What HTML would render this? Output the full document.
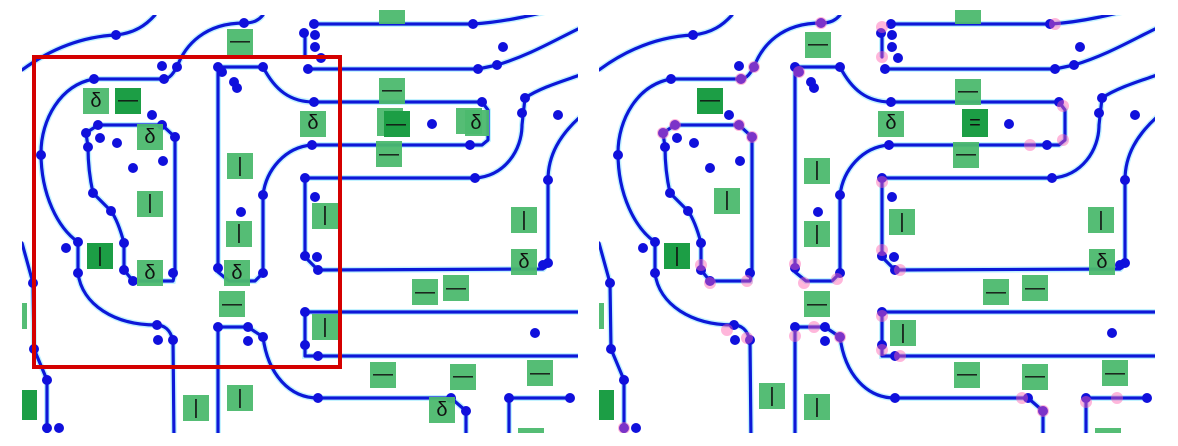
<!DOCTYPE html>
<html><head><meta charset="utf-8"><style>
html,body{margin:0;padding:0;background:#fff;width:1178px;height:446px;overflow:hidden}
svg{display:block}
.ln{fill:none;stroke:#0c18d8;stroke-width:3.2;stroke-linecap:round;stroke-linejoin:round}
.lb{fill:#4cb96e;opacity:.95}
.dk{fill:#1c9e45}
text{font-family:"Liberation Sans","DejaVu Sans",sans-serif;font-size:20px;fill:#111;text-anchor:middle;dominant-baseline:central}
</style></head><body>
<svg width="1178" height="446" viewBox="0 0 1178 446" xmlns="http://www.w3.org/2000/svg">
<defs>
<clipPath id="cp"><rect x="22" y="15" width="556" height="418"/></clipPath>
<path id="pd" d="
M22,70 C60,42 95,36 116,35 C135,33 146,25 155,15
M177,67 C185,45 205,23 244,23 C254,23 259,20 263,15
M314,24 L474,24 C505,22 535,15 580,3
M308,69 L478,69 L497,65 C530,55 555,40 580,28
M305,33 L305,57
M263,67 C275,90 290,102 314,102 L482,102 L488,110 L488,140 L482,145 L312,145 C285,147 266,170 263,195 L263,273 L255,281 L229,281 L218,272 L218,67 L263,67
M305,178 L475,178 C505,176 522,150 522,125 L525,98 C540,88 560,82 580,75
M580,117 C560,135 548,155 548,180 L548,263 L543,269 L318,270 L305,257 L305,178
M94,79 L164,79 C170,79 174,72 177,67
M94,79 C60,85 41,120 41,153 C41,195 58,228 78,242 L78,273 C82,305 115,325 156,325 C165,325 170,330 173,340 L174,440
M98,125 L162,125 L175,137 L175,273 L173,281 L133,281 L124,270 L124,243 C120,228 116,218 111,211 L93,193 C89,175 88,160 88,147 L86,133 L98,125
M22,243 L33,283 L34,349 L47,380 L47,440
M218,327 L248,327 L263,337 C268,375 290,398 318,398 L451,398 L466,411 L466,440
M218,327 L218,440
M305,312 L580,312 M305,312 L305,356 L318,356 L580,356
M509,398 L570,398 M509,398 L509,440
"/>
<g id="geo">
<use href="#pd" fill="none" stroke="#8fe8ff" stroke-width="6" opacity=".55"/>
<use href="#pd" class="ln"/>
<g fill="#1010dc">
<circle cx="116" cy="35" r="5"/><circle cx="244" cy="23" r="5"/><circle cx="177" cy="67" r="5"/><circle cx="164" cy="79" r="5"/><circle cx="162" cy="66" r="5"/><circle cx="94" cy="79" r="5"/><circle cx="41" cy="155" r="5"/>
<circle cx="98" cy="125" r="5"/><circle cx="86" cy="133" r="5"/><circle cx="88" cy="147" r="5"/><circle cx="100" cy="138" r="5"/><circle cx="117" cy="143" r="5"/><circle cx="152" cy="115" r="5"/><circle cx="162" cy="125" r="5"/><circle cx="175" cy="137" r="5"/><circle cx="133" cy="168" r="5"/><circle cx="163" cy="161" r="5"/>
<circle cx="93" cy="193" r="5"/><circle cx="111" cy="211" r="5"/><circle cx="78" cy="242" r="5"/><circle cx="78" cy="273" r="5"/><circle cx="124" cy="243" r="5"/><circle cx="124" cy="270" r="5"/><circle cx="66" cy="248" r="5"/><circle cx="133" cy="281" r="5"/><circle cx="173" cy="273" r="5"/>
<circle cx="218" cy="67" r="5"/><circle cx="222" cy="72" r="5"/><circle cx="263" cy="67" r="5"/><circle cx="234" cy="82" r="5"/><circle cx="237" cy="88" r="5"/>
<circle cx="314" cy="24" r="5"/><circle cx="473" cy="24" r="5"/><circle cx="304" cy="33" r="5"/><circle cx="315" cy="35" r="5"/><circle cx="315" cy="47" r="5"/><circle cx="321" cy="58" r="5"/>
<circle cx="308" cy="69" r="5"/><circle cx="478" cy="69" r="5"/><circle cx="497" cy="65" r="5"/><circle cx="503" cy="47" r="5"/>
<circle cx="314" cy="102" r="5"/><circle cx="482" cy="102" r="5"/><circle cx="312" cy="145" r="5"/><circle cx="470" cy="145" r="5"/><circle cx="432" cy="124" r="5"/>
<circle cx="558" cy="115" r="5"/><circle cx="525" cy="98" r="5"/><circle cx="522" cy="113" r="5"/>
<circle cx="263" cy="195" r="5"/><circle cx="305" cy="178" r="5"/><circle cx="475" cy="178" r="5"/><circle cx="548" cy="180" r="5"/><circle cx="315" cy="197" r="5"/><circle cx="241" cy="212" r="5"/>
<circle cx="218" cy="268" r="5"/><circle cx="263" cy="273" r="5"/><circle cx="305" cy="256" r="5"/><circle cx="317" cy="257" r="5"/><circle cx="318" cy="270" r="5"/><circle cx="548" cy="263" r="5"/><circle cx="543" cy="265" r="5"/>
<circle cx="305" cy="312" r="5"/><circle cx="305" cy="345" r="5"/><circle cx="318" cy="356" r="5"/><circle cx="535" cy="333" r="5"/>
<circle cx="157" cy="325" r="5"/><circle cx="173" cy="340" r="5"/><circle cx="158" cy="340" r="5"/><circle cx="218" cy="327" r="5"/><circle cx="248" cy="327" r="5"/><circle cx="263" cy="337" r="5"/><circle cx="248" cy="341" r="5"/>
<circle cx="318" cy="398" r="5"/><circle cx="451" cy="398" r="5"/><circle cx="466" cy="411" r="5"/>
<circle cx="33" cy="283" r="5"/><circle cx="34" cy="349" r="5"/><circle cx="47" cy="380" r="5"/><circle cx="47" cy="428" r="5"/><circle cx="59" cy="428" r="5"/>
<circle cx="509" cy="398" r="5"/><circle cx="570" cy="398" r="5"/>
</g>
</g>
</defs>

<g clip-path="url(#cp)"><use href="#geo"/></g>
<g transform="translate(577,0)"><g clip-path="url(#cp)">
<use href="#geo"/>
<g fill="#ff5fb0" opacity=".45">
<circle cx="244" cy="23" r="6"/><circle cx="177" cy="67" r="6"/><circle cx="164" cy="79" r="6"/><circle cx="98" cy="125" r="6"/><circle cx="86" cy="133" r="6"/><circle cx="162" cy="125" r="6"/><circle cx="175" cy="137" r="6"/>
<circle cx="222" cy="72" r="6"/><circle cx="305" cy="27" r="6"/><circle cx="305" cy="57" r="6"/><circle cx="478" cy="24" r="6"/><circle cx="486" cy="106" r="6"/><circle cx="486" cy="140" r="6"/><circle cx="453" cy="145" r="6"/>
<circle cx="305" cy="182" r="6"/><circle cx="305" cy="250" r="6"/><circle cx="323" cy="270" r="6"/><circle cx="124" cy="265" r="6"/><circle cx="133" cy="283" r="6"/><circle cx="170" cy="281" r="6"/><circle cx="218" cy="264" r="6"/><circle cx="227" cy="283" r="6"/><circle cx="260" cy="279" r="6"/>
<circle cx="150" cy="330" r="6"/><circle cx="170" cy="338" r="6"/><circle cx="218" cy="336" r="6"/><circle cx="237" cy="327" r="6"/><circle cx="263" cy="337" r="6"/>
<circle cx="305" cy="316" r="6"/><circle cx="305" cy="350" r="6"/><circle cx="323" cy="356" r="6"/><circle cx="445" cy="398" r="6"/><circle cx="466" cy="411" r="6"/><circle cx="509" cy="402" r="6"/><circle cx="540" cy="398" r="6"/><circle cx="47" cy="428" r="6"/>
</g>
</g></g>

<rect x="34" y="57" width="306" height="310" fill="none" stroke="#d40000" stroke-width="4"/>

<g>
<rect class="lb" x="227" y="29" width="26" height="26"/><text x="240" y="41">—</text>
<rect class="lb" x="379" y="10" width="26" height="14"/>
<rect class="lb" x="83" y="88" width="26" height="26"/><text x="96" y="101">δ</text>
<rect class="dk" x="115" y="88" width="26" height="26"/><text x="128" y="100">—</text>
<rect class="lb" x="137" y="124" width="26" height="26"/><text x="150" y="137">δ</text>
<rect class="lb" x="137" y="191" width="26" height="26"/><text x="150" y="203">|</text>
<rect class="lb" x="227" y="153" width="26" height="26"/><text x="240" y="166">|</text>
<rect class="lb" x="300" y="111" width="26" height="26"/><text x="313" y="123">δ</text>
<rect class="lb" x="379" y="78" width="26" height="26"/><text x="392" y="90">—</text>
<rect class="lb" x="377" y="108" width="26" height="28"/><rect class="dk" x="384" y="111" width="26" height="26"/><text x="396" y="124">—</text>
<rect class="lb" x="376" y="141" width="26" height="26"/><text x="389" y="154">—</text>
<rect class="lb" x="456" y="108" width="26" height="26"/><rect class="lb" x="465" y="110" width="24" height="26"/><text x="476" y="123">δ</text>
<rect class="lb" x="312" y="203" width="26" height="26"/><text x="325" y="215">|</text>
<rect class="lb" x="511" y="207" width="26" height="26"/><text x="524" y="220">|</text>
<rect class="dk" x="87" y="243" width="26" height="26"/><text x="100" y="256">|</text>
<rect class="lb" x="137" y="260" width="26" height="26"/><text x="150" y="273">δ</text>
<rect class="lb" x="226" y="221" width="26" height="26"/><text x="239" y="233">|</text>
<rect class="lb" x="224" y="260" width="26" height="26"/><text x="237" y="273">δ</text>
<rect class="lb" x="219" y="291" width="26" height="26"/><text x="232" y="304">—</text>
<rect class="lb" x="312" y="314" width="26" height="26"/><text x="325" y="327">|</text>
<rect class="lb" x="511" y="249" width="26" height="26"/><text x="524" y="262">δ</text>
<rect class="lb" x="412" y="279" width="26" height="26"/><text x="425" y="292">—</text>
<rect class="lb" x="443" y="275" width="26" height="26"/><text x="456" y="288">—</text>
<rect class="lb" x="370" y="362" width="26" height="26"/><text x="383" y="374">—</text>
<rect class="lb" x="450" y="364" width="26" height="26"/><text x="463" y="376">—</text>
<rect class="lb" x="527" y="360" width="26" height="26"/><text x="540" y="373">—</text>
<rect class="lb" x="429" y="397" width="26" height="26"/><text x="442" y="410">δ</text>
<rect class="lb" x="183" y="395" width="26" height="26"/><text x="196" y="408">|</text>
<rect class="lb" x="227" y="385" width="26" height="26"/><text x="240" y="398">|</text>
<rect class="lb" x="22" y="303" width="5" height="26"/>
<rect class="dk" x="22" y="390" width="15" height="30"/>
<rect class="lb" x="518" y="428" width="26" height="5"/>
</g>

<g>
<rect class="lb" x="805" y="32" width="26" height="26"/><text x="818" y="44">—</text>
<rect class="lb" x="955" y="10" width="26" height="14"/>
<rect class="dk" x="697" y="88" width="26" height="26"/><text x="710" y="100">—</text>
<rect class="lb" x="714" y="188" width="26" height="26"/><text x="727" y="200">|</text>
<rect class="lb" x="804" y="158" width="26" height="26"/><text x="817" y="170">|</text>
<rect class="lb" x="878" y="111" width="26" height="26"/><text x="891" y="123">δ</text>
<rect class="lb" x="955" y="79" width="26" height="26"/><text x="968" y="91">—</text>
<rect class="dk" x="962" y="109" width="26" height="28"/><text x="975" y="123">=</text>
<rect class="lb" x="953" y="142" width="26" height="26"/><text x="966" y="154">—</text>
<rect class="lb" x="889" y="209" width="26" height="26"/><text x="902" y="222">|</text>
<rect class="lb" x="1088" y="207" width="26" height="26"/><text x="1101" y="220">|</text>
<rect class="dk" x="664" y="243" width="26" height="26"/><text x="677" y="256">|</text>
<rect class="lb" x="804" y="221" width="26" height="26"/><text x="817" y="234">|</text>
<rect class="lb" x="1089" y="249" width="26" height="26"/><text x="1102" y="262">δ</text>
<rect class="lb" x="804" y="291" width="26" height="26"/><text x="817" y="304">—</text>
<rect class="lb" x="983" y="279" width="26" height="26"/><text x="996" y="292">—</text>
<rect class="lb" x="1022" y="275" width="26" height="26"/><text x="1035" y="288">—</text>
<rect class="lb" x="890" y="320" width="26" height="26"/><text x="903" y="333">|</text>
<rect class="lb" x="954" y="362" width="26" height="26"/><text x="967" y="374">—</text>
<rect class="lb" x="1022" y="364" width="26" height="26"/><text x="1035" y="376">—</text>
<rect class="lb" x="1102" y="360" width="26" height="26"/><text x="1115" y="373">—</text>
<rect class="lb" x="759" y="383" width="26" height="26"/><text x="772" y="396">|</text>
<rect class="lb" x="804" y="394" width="26" height="26"/><text x="817" y="407">|</text>
<rect class="lb" x="599" y="303" width="5" height="26"/>
<rect class="dk" x="599" y="390" width="15" height="30"/>
<rect class="lb" x="1095" y="428" width="26" height="5"/>
</g>
</svg>
</body></html>
